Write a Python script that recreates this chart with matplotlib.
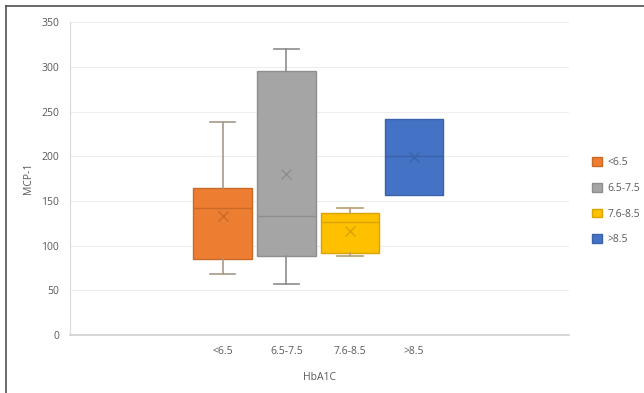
import matplotlib
matplotlib.use("Agg")
import matplotlib.pyplot as plt
from matplotlib.patches import Patch
from matplotlib.lines import Line2D

plt.rcParams['font.family'] = ['Open Sans', 'DejaVu Sans']

# data
groups = ['<6.5', '6.5-7.5', '7.6-8.5', '>8.5']
whislo = [68, 57, 88, 157]
q1 = [85, 88, 92, 157]
med = [142, 133, 126, 200]
mean = [133, 180, 116, 199]
q3 = [164, 295, 136, 242]
whishi = [238, 320, 142, 242]

colors = ['#ED7D31', '#A5A5A5', '#FFC000', '#4472C4']
edges = ['#C96A29', '#8E8E8E', '#D9A400', '#3A62A8']
whisk = ['#A89888', '#8C8C8C', '#B8A070', '#3A62A8']

fig = plt.figure(figsize=(6.44, 3.93), dpi=100)
ax = fig.add_axes([0.1087, 0.1476, 0.7748, 0.796])

stats = []
for i in range(len(groups)):
    stats.append(dict(label=groups[i], whislo=whislo[i], q1=q1[i], med=med[i],
                      q3=q3[i], whishi=whishi[i], mean=mean[i], fliers=[]))

for i in range(len(groups)):
    # no visible whiskers where they coincide with the box
    lw = 1.2 if (whishi[i] > q3[i] or whislo[i] < q1[i]) else 0
    ax.bxp([stats[i]], positions=[i + 1], widths=0.92, patch_artist=True,
           showmeans=True, showfliers=False, manage_ticks=False,
           boxprops=dict(facecolor=colors[i], edgecolor=edges[i], linewidth=1),
           medianprops=dict(color=edges[i], linewidth=1),
           whiskerprops=dict(color=whisk[i], linewidth=lw),
           capprops=dict(color=whisk[i], linewidth=lw),
           meanprops=dict(marker='x', markeredgecolor=edges[i], markersize=7,
                          markeredgewidth=1),
           capwidths=0.4)

ax.set_xlim(-1.39, 6.43)
ax.set_ylim(0, 350)
ax.set_yticks(range(0, 351, 50))
ax.set_xticks(range(1, len(groups) + 1))
ax.set_xticklabels(groups)
ax.tick_params(axis='both', length=0, labelsize=7.5, colors='#595959', pad=8)
ax.yaxis.grid(True, color='#EDEDED', linewidth=0.8)
ax.set_axisbelow(True)
for s in ['top', 'right']:
    ax.spines[s].set_visible(False)
ax.spines['left'].set_color('#D9D9D9')
ax.spines['bottom'].set_color('#D0D0D0')
ax.spines['bottom'].set_linewidth(1.2)

ax.set_ylabel('MCP-1', fontsize=7.5, color='#595959', labelpad=5)
ax.set_xlabel('HbA1C', fontsize=7.5, color='#595959', labelpad=11)

handles = [Patch(facecolor=colors[i], edgecolor=edges[i]) for i in range(len(groups))]
fig.legend(handles, groups, loc='center left', bbox_to_anchor=(0.905, 0.488),
           frameon=False, fontsize=7.5, labelcolor='#595959',
           handlelength=0.9, handleheight=0.9, labelspacing=1.4, handletextpad=0.6)

# figure border (top and left visible)
fig.add_artist(Line2D([0.009, 1], [0.984, 0.984], color='#505050', linewidth=1.2,
                      transform=fig.transFigure))
fig.add_artist(Line2D([0.009, 0.009], [0, 0.984], color='#505050', linewidth=1.2,
                      transform=fig.transFigure))

fig.savefig('out.png', dpi=100)
